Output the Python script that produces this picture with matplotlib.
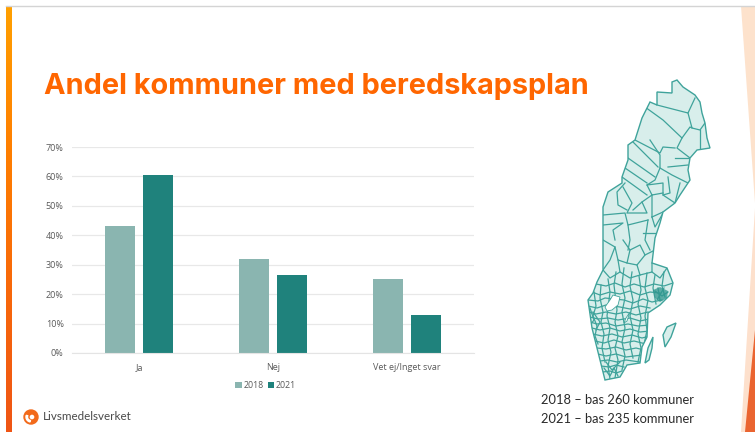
import numpy as np
import matplotlib
matplotlib.use('Agg')
import matplotlib.pyplot as plt
from matplotlib.patches import Polygon, Circle, Wedge

# data
categories = ['Ja', 'Nej', 'Vet ej/Inget svar']
andel_2018 = [43, 32, 25]
andel_2021 = [60.5, 26.5, 13]
yticks = [0, 10, 20, 30, 40, 50, 60, 70]

# karta, ritad i bildens pixlar
sverige = [(672, 82), (677, 80), (683, 87), (695, 95), (700, 102), (702, 113), (705, 123),
           (707, 138), (710, 148), (697, 150), (690, 158), (688, 170), (690, 180), (680, 195),
           (675, 203), (663, 212), (660, 223), (655, 238), (652, 263), (667, 268), (673, 283),
           (670, 295), (660, 305), (648, 313), (647, 337), (642, 347), (640, 363), (627, 365),
           (620, 377), (605, 380), (600, 360), (592, 328), (588, 300), (593, 293), (597, 282),
           (603, 270), (603, 240), (603, 207), (608, 192), (622, 183), (622, 177), (628, 160),
           (628, 145), (635, 140), (642, 118), (650, 102), (657, 105), (657, 92), (672, 93)]
gotland = [(676, 323), (667, 327), (663, 335), (665, 347), (671, 337)]
oland = [(653, 337), (648, 348), (645, 363), (649, 360), (652, 348)]
vanern = [(605, 307), (610, 300), (613, 295), (620, 297), (618, 305), (612, 310), (607, 311)]
vattern = [(630, 312), (626, 318), (624, 323), (627, 321)]
stockholm = [(653, 290), (660, 287), (668, 291), (667, 298), (660, 302), (655, 298)]
norr = [
    [(657, 105), (688, 113), (695, 98)],
    [(645, 107), (663, 120), (682, 138), (690, 127), (692, 128)],
    [(688, 113), (692, 128), (700, 130), (705, 123)],
    [(700, 130), (700, 148)],
    [(682, 138), (677, 148), (690, 158)],
    [(635, 140), (660, 153), (663, 147), (675, 148)],
    [(650, 140), (660, 155), (660, 168), (655, 180), (647, 185), (652, 195), (652, 217)],
    [(633, 142), (658, 167)],
    [(628, 158), (655, 177)],
    [(625, 168), (647, 183)],
    [(622, 177), (647, 195)],
    [(660, 168), (672, 175), (688, 183)],
    [(668, 167), (688, 165)],
    [(675, 158), (690, 158)],
    [(668, 177), (670, 193), (663, 195)],
    [(647, 185), (663, 183), (663, 195), (675, 203)],
    [(652, 195), (663, 193)],
    [(680, 183), (675, 203)],
    [(625, 183), (617, 192), (618, 205), (627, 210)],
    [(623, 187), (632, 203), (627, 213)],
    [(603, 215), (625, 213), (628, 225), (648, 220)],
    [(603, 225), (623, 223), (613, 230), (615, 240)],
    [(628, 213), (647, 213), (642, 202), (652, 195)],
    [(642, 202), (633, 210)],
    [(628, 225), (630, 240), (628, 250)],
    [(652, 217), (663, 212)],
    [(652, 217), (655, 227), (662, 215)],
    [(643, 233), (657, 233)],
    [(648, 220), (645, 240), (650, 250)],
]
mitten = [
    [(603, 240), (615, 247), (610, 260), (603, 270)],
    [(615, 247), (618, 260), (627, 263), (630, 250), (623, 240)],
    [(630, 250), (640, 245), (645, 255), (637, 265), (627, 263)],
    [(645, 255), (655, 250)],
    [(637, 265), (640, 275), (652, 272), (652, 263)],
    [(652, 272), (660, 278), (667, 268)],
    [(618, 260), (620, 272), (610, 278), (603, 270)],
    [(620, 272), (630, 278), (640, 275)],
]
rader = [
    [(596, 284), (606, 286), (615, 283), (625, 287), (634, 284), (644, 287), (654, 284), (664, 286), (673, 283)],
    [(592, 292), (600, 295), (610, 292), (620, 294), (630, 291), (640, 295), (650, 292), (660, 293)],
    [(588, 300), (598, 301), (605, 298), (624, 300), (633, 303), (643, 299), (652, 302), (662, 300)],
    [(588, 306), (597, 308), (606, 305), (620, 307), (630, 309), (640, 306), (650, 308)],
    [(589, 312), (596, 314), (606, 312), (616, 314), (626, 312), (636, 315), (648, 312)],
    [(590, 317), (598, 319), (608, 318), (618, 320), (630, 318), (640, 321), (649, 319)],
    [(590, 322), (597, 324), (606, 323), (616, 326), (628, 324), (638, 326), (650, 325)],
    [(592, 328), (600, 330), (610, 328), (620, 331), (630, 329), (640, 332), (650, 331)],
    [(593, 334), (602, 336), (612, 334), (622, 337), (632, 335), (642, 338), (650, 336)],
    [(595, 341), (604, 343), (614, 340), (624, 343), (634, 341), (646, 344)],
    [(597, 348), (606, 349), (616, 347), (626, 350), (636, 348), (644, 350)],
    [(598, 354), (606, 356), (616, 354), (626, 357), (642, 355)],
    [(600, 361), (608, 360), (617, 362), (626, 360), (640, 362)],
    [(601, 366), (609, 367), (616, 365), (624, 367)],
    [(603, 372), (610, 371), (616, 373), (622, 371)],
]
kolumner = [
    [(594, 292), (596, 306), (593, 316), (597, 326), (595, 336), (598, 344)],
    [(601, 285), (600, 298), (603, 312), (601, 322), (604, 334), (602, 348), (605, 362)],
    [(608, 279), (610, 292), (607, 316), (610, 328), (608, 340), (611, 352), (608, 366), (610, 379)],
    [(616, 272), (614, 285), (617, 310), (615, 322), (618, 336), (615, 348), (618, 360), (615, 378)],
    [(624, 268), (622, 284), (625, 298), (622, 312), (625, 328), (622, 342), (625, 356), (622, 370)],
    [(632, 272), (630, 286), (633, 300), (630, 316), (633, 330), (630, 344), (633, 358)],
    [(639, 276), (641, 290), (638, 304), (641, 318), (638, 334), (641, 348), (638, 362)],
    [(647, 273), (645, 288), (648, 300), (645, 316), (647, 330), (644, 345)],
    [(655, 275), (653, 288), (656, 304)],
    [(664, 272), (662, 286), (665, 297)],
]
sormland = [
    [(655, 291), (662, 296), (668, 292)],
    [(658, 288), (660, 300)],
    [(664, 288), (657, 300)],
    [(590, 308), (594, 320), (591, 324)],
    [(593, 312), (600, 322), (596, 330)],
    [(604, 368), (610, 376), (614, 368), (618, 376)],
    [(606, 362), (612, 370), (620, 362)],
]

fig = plt.figure(figsize=(7.55, 4.32), dpi=100)
fig.patch.set_facecolor('white')

# bakgrund i pixlar
bg = fig.add_axes([0, 0, 1, 1])
bg.axis('off')
bg.plot([6, 755], [6, 6], color='#d4d4d4', lw=1)
grad = np.linspace(0, 1, 200).reshape(-1, 1)
cmap = matplotlib.colors.LinearSegmentedColormap.from_list('kant', ['#ffa000', '#ff7f00', '#f8680a', '#ef5515'])
bg.imshow(grad, extent=(6, 12, 432, 6), cmap=cmap, aspect='auto', zorder=1)
bg.set_xlim(0, 755)
bg.set_ylim(432, 0)
bg.add_patch(Polygon([(741, 6), (755, 6), (755, 203)], facecolor='#fde2cc', edgecolor='none'))
bg.add_patch(Polygon([(755, 208), (755, 432), (741, 432)], facecolor='#fde0cc', edgecolor='none'))
bg.add_patch(Polygon([(755, 330), (755, 432), (745, 432)], facecolor='#ea6430', edgecolor='none'))

bg.text(44, 87, 'Andel kommuner med beredskapsplan', color='#ff6600', fontsize=20.8,
        family='Inter', weight='bold', va='center', ha='left')

# karta
kant = '#3fa39b'
fyll = '#d8eeeb'
land = Polygon(sverige, closed=True, facecolor=fyll, edgecolor=kant, lw=1.0, zorder=2)
bg.add_patch(land)
for poly in (gotland, oland):
    bg.add_patch(Polygon(poly, closed=True, facecolor=fyll, edgecolor=kant, lw=1.0, zorder=2))
for g in norr + mitten + rader + kolumner + sormland:
    xs, ys = zip(*g)
    line, = bg.plot(xs, ys, color=kant, lw=0.9, zorder=3, solid_joinstyle='round')
    line.set_clip_path(land)
for poly in (vanern, vattern):
    bg.add_patch(Polygon(poly, closed=True, facecolor='white', edgecolor=kant, lw=0.6, zorder=4))
bg.add_patch(Polygon(stockholm, closed=True, facecolor='#2f968e', edgecolor='none', alpha=0.75, zorder=4))

bg.text(541, 400, '2018 \u2013 bas 260 kommuner', fontsize=9.3, family='Lato',
        color='#2a2a2a', va='center')
bg.text(541, 419, '2021 \u2013 bas 235 kommuner', fontsize=9.3, family='Lato',
        color='#2a2a2a', va='center')

# logga
bg.add_patch(Circle((31, 417), 7, color='#f26a1b', zorder=3))
bg.add_patch(Wedge((31, 417), 5, 100, 200, width=1.5, color='white', zorder=4))
bg.add_patch(Circle((32, 417), 1.6, color='white', zorder=4))
bg.text(43, 417, 'Livsmedelsverket', fontsize=8.4, family='Lato', color='#4a4a4a', va='center')

# diagram
W, H = 755.0, 432.0
left, right, top, bottom = 72, 474, 147, 353
ax = fig.add_axes([left / W, 1 - bottom / H, (right - left) / W, (bottom - top) / H])
ax.patch.set_alpha(0)
x = np.arange(len(categories))
w = 0.224
gap = 0.03
ax.bar(x - w / 2 - gap, andel_2018, w, color='#8ab5b0', zorder=2, label='2018')
ax.bar(x + w / 2 + gap, andel_2021, w, color='#1f827c', zorder=2, label='2021')
ax.set_xlim(-0.5, 2.5)
ax.set_ylim(0, 70)
ax.set_yticks(yticks)
ax.set_yticklabels([str(v) + '%' for v in yticks], fontsize=6.5, color='#595959', family='Open Sans')
ax.set_xticks(x)
ax.set_xticklabels(categories, fontsize=6.5, color='#595959', family='Open Sans')
ax.tick_params(length=0)
ax.tick_params(axis='y', pad=6)
ax.tick_params(axis='x', pad=7)
ax.grid(axis='y', color='#e8e8e8', lw=0.9, zorder=0)
ax.set_axisbelow(True)
for s in ('top', 'right', 'left'):
    ax.spines[s].set_visible(False)
ax.spines['bottom'].set_color('#e4e4e4')

leg = ax.legend(loc='center', bbox_to_anchor=(0.482, -0.158), ncol=2, frameon=False,
                handlelength=0.75, handleheight=0.8, handletextpad=0.2, columnspacing=0.45,
                prop={'family': 'Open Sans', 'size': 6.3})
for t in leg.get_texts():
    t.set_color('#595959')

fig.savefig('out.png', dpi=100)
